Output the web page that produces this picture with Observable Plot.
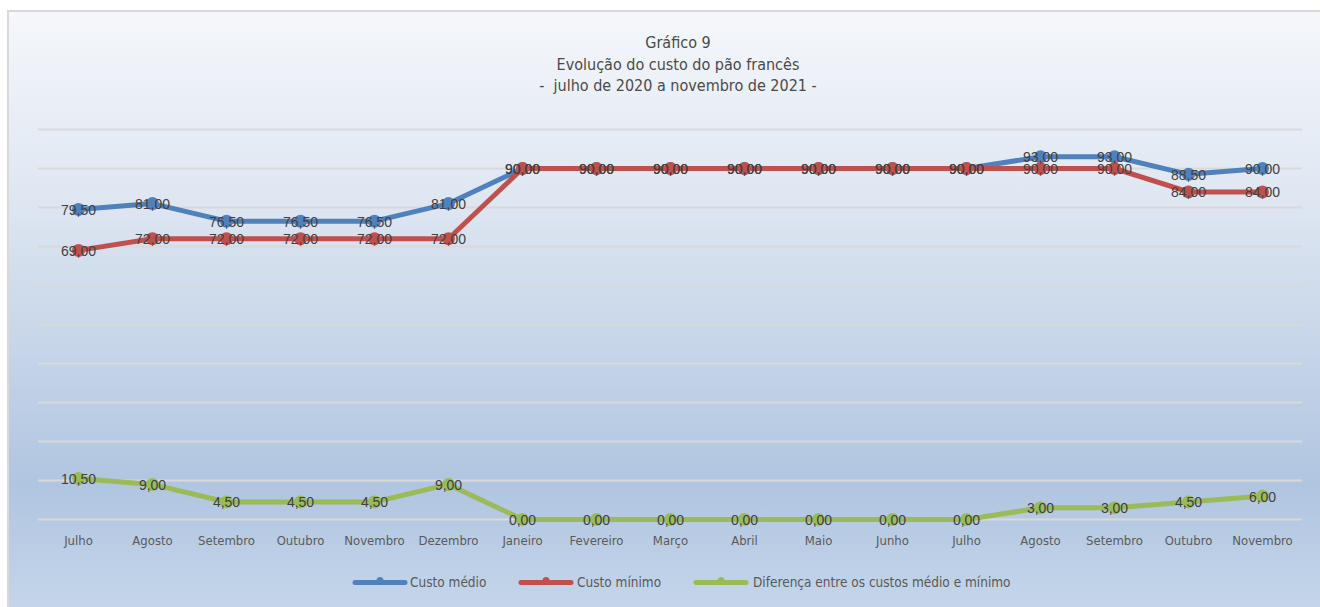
<!DOCTYPE html>
<html>
<head>
<meta charset="utf-8">
<script src="https://cdn.jsdelivr.net/npm/d3@7"></script>
<script src="https://cdn.jsdelivr.net/npm/@observablehq/plot@0.6"></script>
<style>
  html, body { margin: 0; padding: 0; background: #fff; width: 1320px; height: 607px; overflow: hidden; }
  #frame {
    position: absolute; left: 7px; top: 10px; width: 1320px; height: 610px;
    border: 2px solid #d9d9d9; box-sizing: border-box;
    background: linear-gradient(to bottom, #f5f7fb 0%, #dfe7f2 30%, #b0c5e0 78%, #c6d7eb 100%);
  }
  .narrow { font-family: "DejaVu Sans Condensed", "DejaVu Sans", sans-serif; font-stretch: condensed; }
  #title {
    position: absolute; left: 378px; width: 600px; top: 32px; text-align: center;
    color: #4a4a4a; font-size: 16px; line-height: 21.5px;
  }
  #chart { position: absolute; left: 0; top: 110px; }
  #legend { position: absolute; top: 0; left: 0; width: 1320px; height: 607px; color: #595959; font-size: 13.5px; pointer-events: none; }
  .sw { position: absolute; top: 574px; }
  .lt { position: absolute; top: 574px; line-height: 16px; white-space: nowrap; }
</style>
</head>
<body>
<div id="frame"></div>
<div id="title" class="narrow">Gr&aacute;fico 9<br>Evolu&ccedil;&atilde;o do custo do p&atilde;o franc&ecirc;s<br>-&nbsp; julho de 2020 a novembro de 2021 -</div>
<div id="chart"></div>
<div id="legend" class="narrow"></div>
<script>
const months = ["Julho","Agosto","Setembro","Outubro","Novembro","Dezembro","Janeiro","Fevereiro","Mar\u00e7o","Abril","Maio","Junho","Julho","Agosto","Setembro","Outubro","Novembro"];
const custoMedio = [79.5, 81, 76.5, 76.5, 76.5, 81, 90, 90, 90, 90, 90, 90, 90, 93, 93, 88.5, 90];
const custoMinimo = [69, 72, 72, 72, 72, 72, 90, 90, 90, 90, 90, 90, 90, 90, 90, 84, 84];
const diferenca = [10.5, 9, 4.5, 4.5, 4.5, 9, 0, 0, 0, 0, 0, 0, 0, 3, 3, 4.5, 6];
const seriesNames = ["Custo m\u00e9dio", "Custo m\u00ednimo", "Diferen\u00e7a entre os custos m\u00e9dio e m\u00ednimo"];
const seriesColors = ["#4f81bd", "#c0504d", "#9bbb59"];
const yTicks = [0, 10, 20, 30, 40, 50, 60, 70, 80, 90, 100];

const seriesValues = [custoMedio, custoMinimo, diferenca];
const data = seriesValues.map((vals, s) => vals.map((v, i) => ({i, v, s: seriesNames[s]})));
const fmt = v => v.toFixed(2).replace(".", ",");
const narrow = "DejaVu Sans Condensed, DejaVu Sans, sans-serif";

const lineMarks = [];
data.forEach((d, s) => {
  lineMarks.push(Plot.line(d, {x: "i", y: "v", stroke: seriesColors[s], strokeWidth: 5, strokeLinejoin: "round", strokeLinecap: "round"}));
  lineMarks.push(Plot.dot(d, {x: "i", y: "v", r: 6.5, fill: seriesColors[s], stroke: "none"}));
});
const labelMarks = data.map(d => Plot.text(d, {x: "i", y: "v", text: d => fmt(d.v), fill: "#404040", fontSize: 14, fontFamily: "Liberation Sans, Arial, sans-serif", dy: 1}));

const tickData = months.map((m, i) => ({i, m}));

const plot = Plot.plot({
  width: 1320,
  height: 450,
  marginLeft: 38,
  marginRight: 18,
  marginTop: 19,
  marginBottom: 41,
  style: {background: "transparent", overflow: "visible"},
  x: {type: "point", domain: d3.range(months.length), padding: 0.5, axis: null},
  y: {domain: [0, 100], axis: null},
  marks: [
    Plot.ruleY(yTicks, {stroke: "#d9d9d9", strokeWidth: 2}),
    Plot.text(tickData, {x: "i", text: "m", frameAnchor: "bottom", lineAnchor: "middle", dy: 21, fontSize: 13, fontFamily: narrow, fill: "#595959", lineWidth: 100}),
    ...lineMarks,
    ...labelMarks
  ]
});
document.getElementById("chart").appendChild(plot);

// legend
const swatchX = [352, 518, 693];
const textX = [410, 577, 753];
const legend = document.getElementById("legend");
seriesNames.forEach((name, s) => {
  const sw = document.createElementNS("http://www.w3.org/2000/svg", "svg");
  sw.setAttribute("class", "sw");
  sw.setAttribute("width", "58");
  sw.setAttribute("height", "16");
  sw.style.left = swatchX[s] + "px";
  sw.innerHTML = `<line x1="3" y1="8.5" x2="53" y2="8.5" stroke="${seriesColors[s]}" stroke-width="5" stroke-linecap="round"/><circle cx="28" cy="6.5" r="3.5" fill="${seriesColors[s]}"/>`;
  legend.appendChild(sw);
  const t = document.createElement("span");
  t.className = "lt";
  t.style.left = textX[s] + "px";
  t.textContent = name;
  legend.appendChild(t);
});
</script>
</body>
</html>
